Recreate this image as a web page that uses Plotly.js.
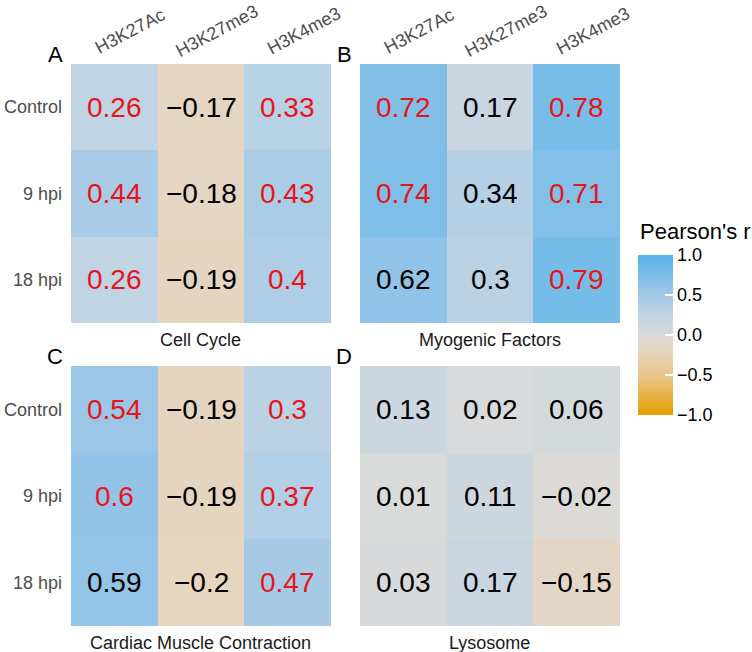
<!DOCTYPE html>
<html>
<head>
<meta charset="utf-8">
<script src="https://cdn.plot.ly/plotly-3.0.1.min.js"></script>
<style>
  html, body { margin: 0; padding: 0; background: #fff; }
  #chart { width: 752px; height: 652px; }
</style>
</head>
<body>
<div id="chart"></div>
<script>
// marks and rows
const marks = ['H3K27Ac', 'H3K27me3', 'H3K4me3'];
const timepoints = ['Control', '9 hpi', '18 hpi'];

// Pearson's r per panel, rows = timepoints, cols = marks
const cellCycle = [[0.26, -0.17, 0.33], [0.44, -0.18, 0.43], [0.26, -0.19, 0.4]];
const myogenic = [[0.72, 0.17, 0.78], [0.74, 0.34, 0.71], [0.62, 0.3, 0.79]];
const cardiac = [[0.54, -0.19, 0.3], [0.6, -0.19, 0.37], [0.59, -0.2, 0.47]];
const lysosome = [[0.13, 0.02, 0.06], [0.01, 0.11, -0.02], [0.03, 0.17, -0.15]];

// which cells are shown in red
const cellCycleSig = [[1, 0, 1], [1, 0, 1], [1, 0, 1]];
const myogenicSig = [[1, 0, 1], [1, 0, 1], [0, 0, 1]];
const cardiacSig = [[1, 0, 1], [1, 0, 1], [0, 0, 1]];
const lysosomeSig = [[0, 0, 0], [0, 0, 0], [0, 0, 0]];

const panelTitles = ['Cell Cycle', 'Myogenic Factors', 'Cardiac Muscle Contraction', 'Lysosome'];
const panelLetters = ['A', 'B', 'C', 'D'];

const W = 752, H = 652;
const px = v => v / W;
const py = v => 1 - v / H;

// panel boxes in pixels: [left, right, top, bottom]
const boxes = [
  [71, 331, 64, 323],
  [360, 620, 64, 323],
  [71, 331, 366, 626],
  [360, 620, 366, 626]
];

const colorscale = [
  [0, '#E69F00'],
  [0.25, '#EAC68D'],
  [0.4, '#E6D5BF'],
  [0.5, '#DADADA'],
  [0.63, '#C0D4E4'],
  [0.75, '#A2C8E6'],
  [1, '#56B4E9']
];

const font = 'Liberation Sans, Arial, sans-serif';
const fmt = v => (v < 0 ? '\u2212' + Math.abs(v) : String(v));

const panels = [
  { z: cellCycle, sig: cellCycleSig },
  { z: myogenic, sig: myogenicSig },
  { z: cardiac, sig: cardiacSig },
  { z: lysosome, sig: lysosomeSig }
];

const traces = [];
const annotations = [];
const layout = {
  width: W,
  height: H,
  margin: { l: 0, r: 0, t: 0, b: 0, autoexpand: false },
  paper_bgcolor: '#fff',
  plot_bgcolor: '#fff',
  font: { family: font, color: '#000' },
  showlegend: false,
  annotations: annotations
};

panels.forEach((p, i) => {
  const n = i + 1;
  const xa = n === 1 ? 'x' : 'x' + n;
  const ya = n === 1 ? 'y' : 'y' + n;
  const b = boxes[i];

  const trace = {
    type: 'heatmap',
    x: marks,
    y: timepoints,
    z: p.z,
    zmin: -1,
    zmax: 1,
    colorscale: colorscale,
    showscale: i === 0,
    hoverinfo: 'skip',
    xaxis: xa,
    yaxis: ya
  };
  if (i === 0) {
    trace.colorbar = {
      x: px(638),
      xanchor: 'left',
      y: py(335),
      yanchor: 'middle',
      len: 160,
      lenmode: 'pixels',
      thickness: 35,
      outlinewidth: 0,
      ticks: 'inside',
      ticklen: 8,
      tickwidth: 1.2,
      tickcolor: '#fff',
      tickvals: [-1, -0.5, 0, 0.5, 1],
      ticktext: ['\u22121.0', '\u22120.5', '0.0', '0.5', '1.0'],
      tickfont: { size: 18, color: '#000' },
      ypad: 0,
      xpad: 0
    };
  }
  traces.push(trace);

  const axKey = n === 1 ? 'xaxis' : 'xaxis' + n;
  const ayKey = n === 1 ? 'yaxis' : 'yaxis' + n;
  layout[axKey] = {
    domain: [px(b[0]), px(b[1])],
    anchor: ya,
    type: 'category',
    categoryarray: marks,
    range: [-0.5, marks.length - 0.5],
    autorange: false,
    showticklabels: false,
    showgrid: false,
    zeroline: false,
    ticks: '',
    showline: false,
    fixedrange: true
  };
  layout[ayKey] = {
    domain: [py(b[3]), py(b[2])],
    anchor: xa,
    type: 'category',
    categoryarray: timepoints,
    range: [timepoints.length - 0.5, -0.5],
    autorange: false,
    showticklabels: i === 0 || i === 2,
    tickfont: { size: 18, color: '#4D4D4D' },
    ticklabelstandoff: 8,
    showgrid: false,
    zeroline: false,
    ticks: '',
    showline: false,
    fixedrange: true
  };

  // cell values
  p.z.forEach((row, r) => {
    row.forEach((v, c) => {
      annotations.push({
        xref: xa, yref: ya,
        x: marks[c], y: timepoints[r],
        xanchor: 'center', yanchor: 'middle',
        text: fmt(v),
        showarrow: false,
        font: { size: 28, color: p.sig[r][c] ? '#E8141B' : '#000' }
      });
    });
  });

  // column labels on the top row only
  if (i < 2) {
    marks.forEach(m => {
      annotations.push({
        xref: xa, yref: 'paper',
        x: m, y: py(31),
        xanchor: 'center', yanchor: 'middle',
        xshift: 16,
        text: m,
        textangle: -28,
        showarrow: false,
        font: { size: 18, color: '#4D4D4D' }
      });
    });
  }

  // panel letter
  annotations.push({
    xref: 'paper', yref: 'paper',
    x: px(b[0] - 16), y: py(b[2] - 9),
    xanchor: 'center', yanchor: 'middle',
    text: panelLetters[i],
    showarrow: false,
    font: { size: 22, color: '#000' }
  });

  // subtitle under the panel
  annotations.push({
    xref: 'paper', yref: 'paper',
    x: px((b[0] + b[1]) / 2), y: py(b[3] + 17),
    xanchor: 'center', yanchor: 'middle',
    text: panelTitles[i],
    showarrow: false,
    font: { size: 18, color: '#1A1A1A' }
  });
});

// colorbar title
annotations.push({
  xref: 'paper', yref: 'paper',
  x: px(638), y: py(231),
  xanchor: 'left', yanchor: 'middle',
  text: "Pearson's r",
  showarrow: false,
  font: { size: 22, color: '#000' }
});

Plotly.newPlot('chart', traces, layout, { staticPlot: true, displayModeBar: false });
</script>
</body>
</html>
